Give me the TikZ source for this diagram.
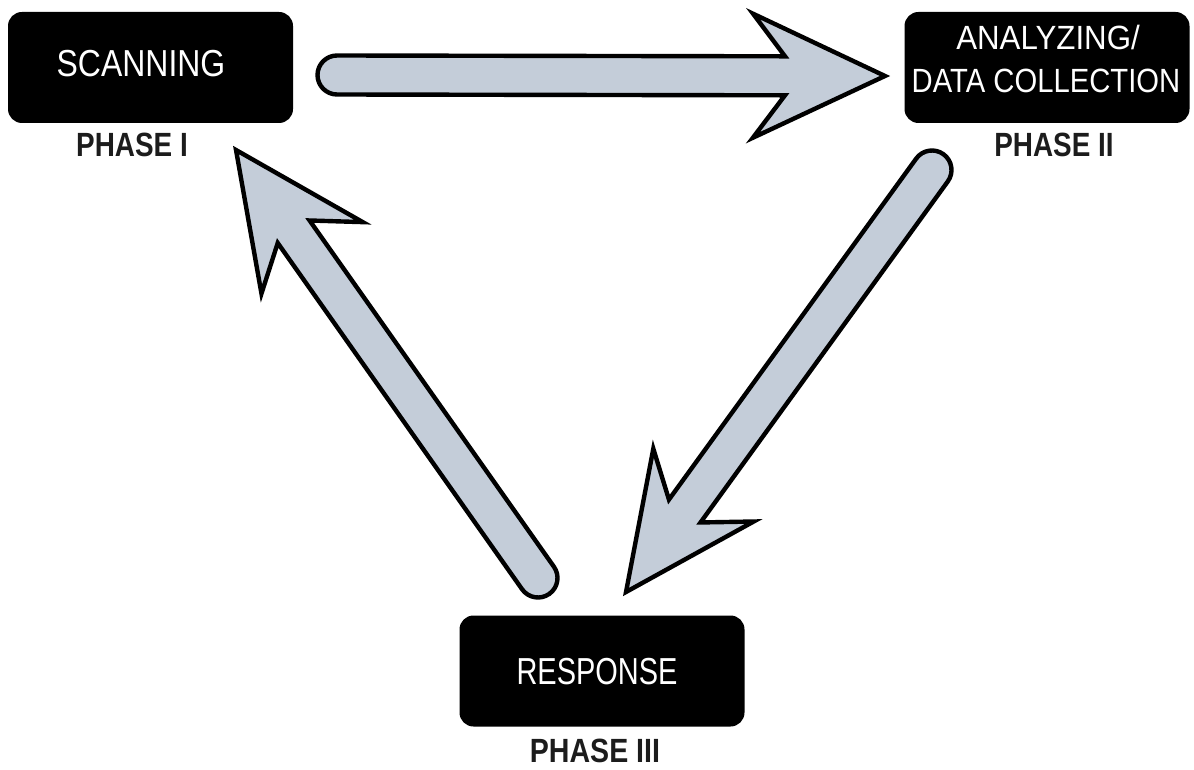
\documentclass[tikz,border=0pt]{standalone}
\usepackage{fontspec}
\setmainfont{Liberation Sans}
\usepackage{graphicx}
\usetikzlibrary{calc}
\definecolor{arrowfill}{RGB}{196,205,217}
\definecolor{phasegray}{RGB}{28,28,28}
\newcommand\blockarrow[2]{%
  \path let \p1=($(#2)-(#1)$) in \pgfextra{%
    \pgfmathsetmacro\arrAng{atan2(\y1,\x1)}%
    \pgfmathsetmacro\arrLen{veclen(\x1,\y1)}%
    \global\let\arrAngG\arrAng\global\let\arrLenG\arrLen};
  \draw[blockarrow,shift={(#1)},rotate=\arrAngG]
    (0pt,-9.75pt) -- ({\arrLenG pt-50pt},-9.75pt) -- ({\arrLenG pt-66pt},-31pt)
    -- ({\arrLenG pt},0pt) -- ({\arrLenG pt-66pt},31pt) -- ({\arrLenG pt-50pt},9.75pt)
    -- (0pt,9.75pt) arc[start angle=90,end angle=270,radius=9.75pt] -- cycle;
}
\tikzset{
  phasebox/.style={fill=black,rounded corners=7pt,minimum width=142.5pt,minimum height=55.5pt,inner sep=0pt},
  boxtext/.style={anchor=base,text=white,inner sep=0pt,font=\fontsize{18.8}{22}\selectfont},
  boxtextsmall/.style={anchor=base,text=white,inner sep=0pt,font=\fontsize{16.8}{20}\selectfont},
  phaselabel/.style={anchor=base,text=phasegray,inner sep=0pt,font=\bfseries\fontsize{16.8}{20}\selectfont},
  blockarrow/.style={draw=black,fill=arrowfill,line width=2.2pt,line join=miter}
}
\begin{document}
\begin{tikzpicture}[x=0.5pt,y=-0.5pt]
\useasboundingbox (0,0) rectangle (1194,770);
% boxes
\node[phasebox] (scan) at (150.5,67.5) {};
\node[phasebox] (anal) at (1047,67.5) {};
\node[phasebox] (resp) at (602,671) {};
% box texts
\node[boxtext] (scantext) at (141,77) {\scalebox{0.85}[1]{SCANNING}};
\node[boxtextsmall] (analtext1) at (1048,50) {\scalebox{0.93}[1]{ANALYZING/}};
\node[boxtextsmall] (analtext2) at (1046,93) {\scalebox{0.87}[1]{DATA COLLECTION}};
\node[boxtext] (resptext) at (597,684) {\scalebox{0.77}[1]{RESPONSE}};
% phase labels
\node[phaselabel] (ph1) at (132,157) {\scalebox{0.83}[1]{PHASE I}};
\node[phaselabel] (ph2) at (1054,157) {\scalebox{0.83}[1]{PHASE II}};
\node[phaselabel] (ph3) at (595,762) {\scalebox{0.85}[1]{PHASE III}};
% arrow ends
\coordinate (a1t) at (337,75);
\coordinate (a1p) at (885,76);
\coordinate (a2t) at (932,170);
\coordinate (a2p) at (626,592);
\coordinate (a3t) at (538,578);
\coordinate (a3p) at (236,150);
\blockarrow{a1t}{a1p}
\blockarrow{a2t}{a2p}
\blockarrow{a3t}{a3p}
\end{tikzpicture}
\end{document}
